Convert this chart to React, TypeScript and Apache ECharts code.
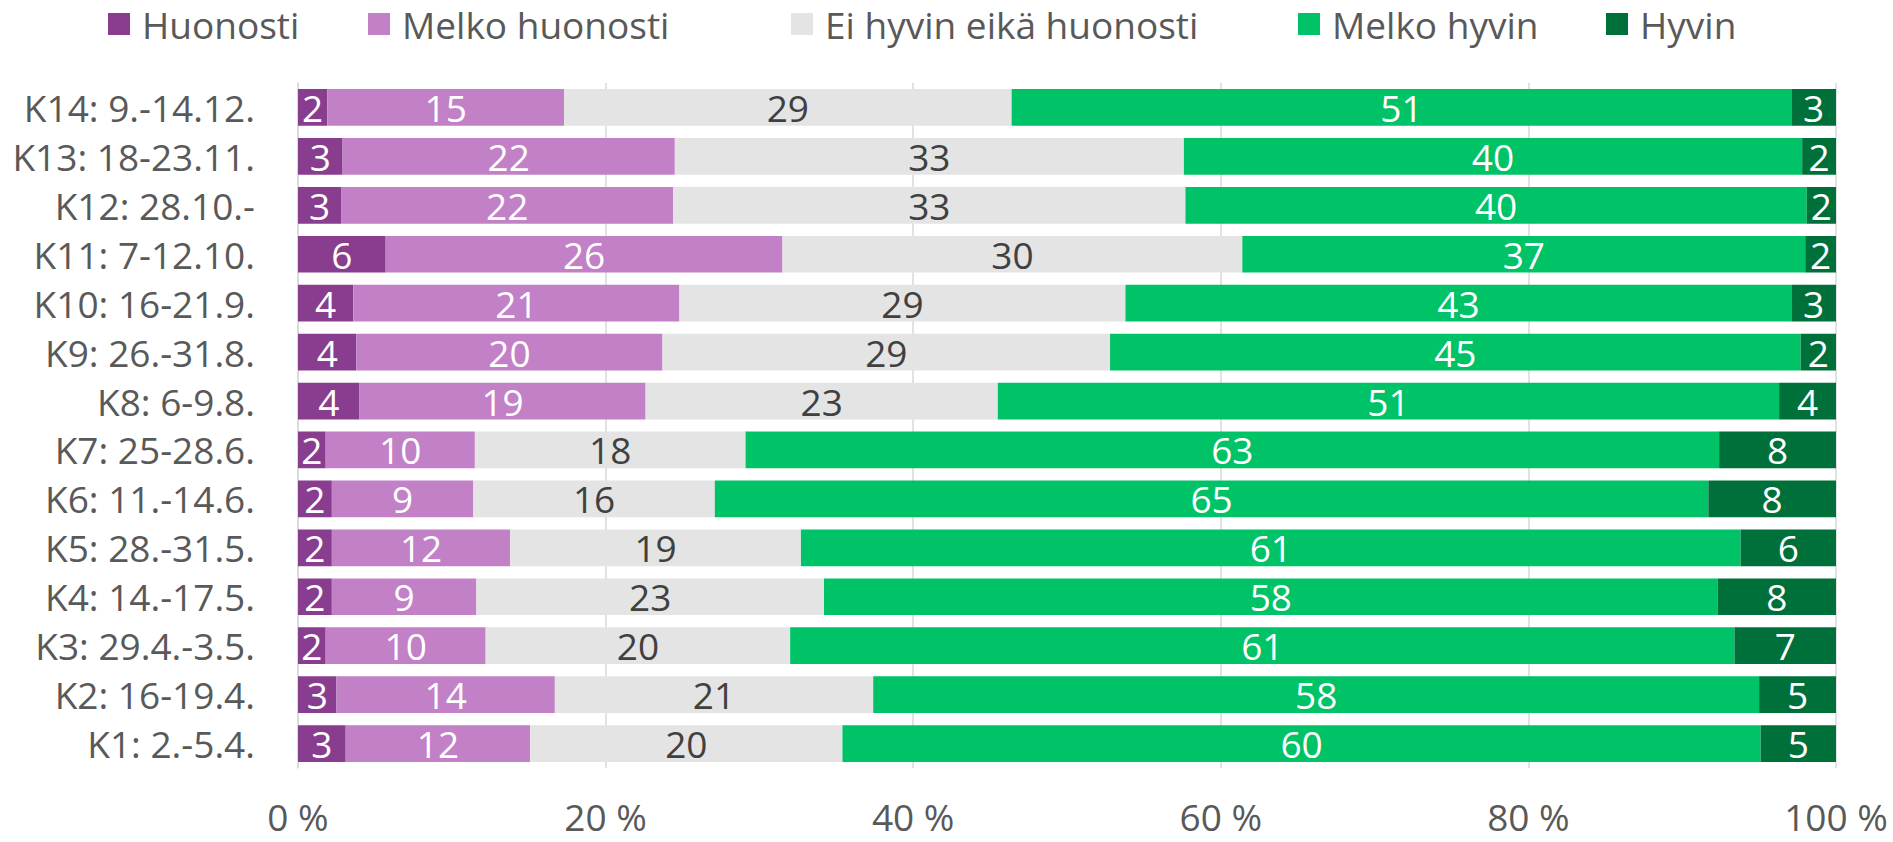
import React, { useEffect, useRef } from "react";
import * as echarts from "echarts";

const categories = [
  "K1: 2.-5.4.",
  "K2: 16-19.4.",
  "K3: 29.4.-3.5.",
  "K4: 14.-17.5.",
  "K5: 28.-31.5.",
  "K6: 11.-14.6.",
  "K7: 25-28.6.",
  "K8: 6-9.8.",
  "K9: 26.-31.8.",
  "K10: 16-21.9.",
  "K11: 7-12.10.",
  "K12: 28.10.-",
  "K13: 18-23.11.",
  "K14: 9.-14.12.",
];

const huonosti = [3.1, 2.5, 1.8, 2.2, 2.2, 2.2, 1.8, 4.0, 3.8, 3.6, 5.7, 2.8, 2.9, 1.9];
const melkoHuonosti = [12.0, 14.2, 10.4, 9.4, 11.6, 9.2, 9.7, 18.6, 19.9, 21.2, 25.8, 21.6, 21.6, 15.4];
const eiHyvinEikaHuonosti = [20.3, 20.7, 19.8, 22.6, 18.9, 15.7, 17.6, 22.9, 29.1, 29.0, 29.9, 33.3, 33.1, 29.1];
const melkoHyvin = [59.7, 57.6, 61.4, 58.1, 61.1, 64.6, 63.3, 50.8, 44.9, 43.3, 36.6, 40.4, 40.2, 50.7];
const hyvin = [4.9, 5.0, 6.6, 7.7, 6.2, 8.3, 7.6, 3.7, 2.3, 2.9, 2.0, 1.9, 2.2, 2.9];

const xTicks = [0, 20, 40, 60, 80, 100];

const seriesNames = ["Huonosti", "Melko huonosti", "Ei hyvin eikä huonosti", "Melko hyvin", "Hyvin"];
const seriesData = [huonosti, melkoHuonosti, eiHyvinEikaHuonosti, melkoHyvin, hyvin];
const colors = ["#883d8e", "#c280c7", "#e4e4e4", "#00c266", "#00703b"];
const labelColors = ["#ffffff", "#ffffff", "#404040", "#ffffff", "#ffffff"];
const legendLefts = [108, 368, 791, 1298, 1606];

const FONT = "'Open Sans', 'Noto Sans', sans-serif";

export default function App() {
  const ref = useRef<HTMLDivElement>(null);
  useEffect(() => {
    document.body.style.margin = "0";
    if (!ref.current) return;
    const chart = echarts.init(ref.current, null, { renderer: "svg" });
    chart.setOption({
      animation: false,
      backgroundColor: "#ffffff",
      textStyle: { fontFamily: FONT },
      legend: seriesNames.map((n, i) => ({
        data: [n],
        left: legendLefts[i],
        top: 4,
        padding: 0,
        icon: "rect",
        itemWidth: 22,
        itemHeight: 22,
        textStyle: {
          fontFamily: FONT,
          fontSize: 37,
          color: "#595959",
          lineHeight: 40,
          padding: [0, 0, 0, 7],
        },
      })),
      grid: { left: 298, right: 57, top: 83, height: 685 },
      xAxis: {
        type: "value",
        min: xTicks[0],
        max: xTicks[xTicks.length - 1],
        interval: 20,
        axisLine: { show: false },
        axisTick: { show: false },
        splitLine: { show: true, lineStyle: { color: "#d9d9d9", width: 1.5 } },
        axisLabel: {
          formatter: "{value} %",
          fontFamily: FONT,
          fontSize: 37,
          lineHeight: 40,
          color: "#595959",
          margin: 28,
        },
      },
      yAxis: {
        type: "category",
        data: categories,
        axisLine: { show: true, lineStyle: { color: "#d9d9d9", width: 1.5 } },
        axisTick: { show: false },
        axisLabel: {
          fontFamily: FONT,
          fontSize: 37,
          color: "#595959",
          margin: 43,
        },
      },
      series: seriesNames.map((n, i) => ({
        name: n,
        type: "bar",
        stack: "total",
        barCategoryGap: "25%",
        itemStyle: { color: colors[i] },
        label: {
          show: true,
          position: "inside",
          fontFamily: FONT,
          fontSize: 37,
          color: labelColors[i],
          formatter: (p: any) => String(Math.round(p.value)),
        },
        data: seriesData[i],
      })),
    });
    return () => chart.dispose();
  }, []);
  return <div ref={ref} style={{ width: 1893, height: 842 }} />;
}
